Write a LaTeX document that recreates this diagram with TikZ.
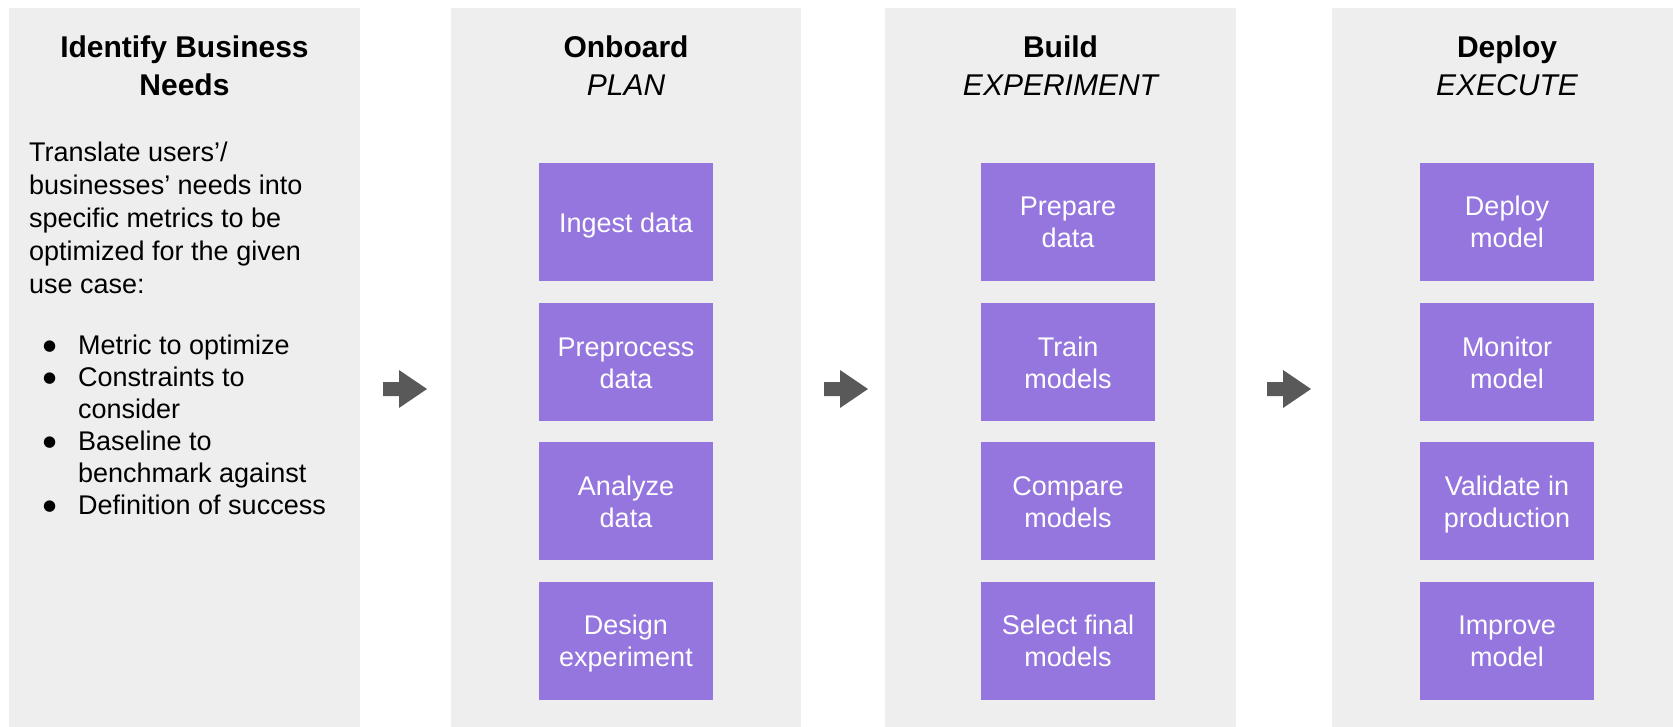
\documentclass[tikz,border=0pt]{standalone}
\usepackage{fontspec}
\setmainfont{Liberation Sans}
\newfontfamily\symfont{DejaVu Sans}
\definecolor{panelgray}{HTML}{EEEEEE}
\definecolor{boxpurple}{HTML}{9575DE}
\definecolor{arrowgray}{HTML}{595959}
\newcommand{\listdot}{\raisebox{4pt}{\symfont\fontsize{15}{15}\selectfont ●}}
\newcommand{\lines}[1]{\begin{tabular}[t]{@{}c@{}}#1\end{tabular}}
\begin{document}
\begin{tikzpicture}[x=1pt,y=-1pt,
  panel/.style={fill=panelgray,draw=none,inner sep=0pt,anchor=north west,minimum height=719pt},
  stepbox/.style={fill=boxpurple,draw=none,minimum width=174pt,minimum height=118pt,inner sep=0pt,
    text=white,font=\fontsize{27}{32}\selectfont,text height=20pt,text depth=32pt},
  oneline/.style={text height=22pt,text depth=0pt},
  heading/.style={inner sep=0pt,anchor=base,font=\fontsize{30}{38}\selectfont},
  bodytext/.style={inner sep=0pt,anchor=base west,font=\fontsize{27}{32.8}\selectfont},
  blockarrow/.pic={\fill[arrowgray] (-22,-7) -- (-6,-7) -- (-6,-19) -- (22,0) -- (-6,19) -- (-6,7) -- (-22,7) -- cycle;}
]
\useasboundingbox (0,0) rectangle (1673,727);
% panels
\node[panel,minimum width=351pt] (p1) at (9,8) {};
\node[panel,minimum width=350pt] (p2) at (451,8) {};
\node[panel,minimum width=351pt] (p3) at (885,8) {};
\node[panel,minimum width=341pt] (p4) at (1332,8) {};
% headings
\node[heading] (t1) at (184.5,58) {\lines{\bfseries Identify Business\\\bfseries Needs}};
\node[heading] (t2) at (626,58) {\lines{\bfseries Onboard\\\itshape PLAN}};
\node[heading] (t3) at (1060.5,58) {\lines{\bfseries Build\\\itshape EXPERIMENT}};
\node[heading] (t4) at (1507,58) {\lines{\bfseries Deploy\\\itshape EXECUTE}};
% left text
\node[bodytext] (desc) at (29,162) {\begin{tabular}[t]{@{}l@{}}Translate users’/\\businesses’ needs into\\specific metrics to be\\optimized for the given\\use case:\end{tabular}};
\node[bodytext,font=\fontsize{27}{32}\selectfont] (list) at (43,354) {\begin{tabular}[t]{@{}p{35pt}@{}l@{}}
\listdot & Metric to optimize\\
\listdot & Constraints to\\
 & consider\\
\listdot & Baseline to\\
 & benchmark against\\
\listdot & Definition of success
\end{tabular}};
% boxes
\node[stepbox,oneline] (b21) at (626,222) {\lines{Ingest data}};
\node[stepbox] (b22) at (626,362) {\lines{Preprocess\\data}};
\node[stepbox] (b23) at (626,501) {\lines{Analyze\\data}};
\node[stepbox] (b24) at (626,640.5) {\lines{Design\\experiment}};
\node[stepbox] (b31) at (1068,222) {\lines{Prepare\\data}};
\node[stepbox] (b32) at (1068,362) {\lines{Train\\models}};
\node[stepbox] (b33) at (1068,501) {\lines{Compare\\models}};
\node[stepbox] (b34) at (1068,640.5) {\lines{Select final\\models}};
\node[stepbox] (b41) at (1507,222) {\lines{Deploy\\model}};
\node[stepbox] (b42) at (1507,362) {\lines{Monitor\\model}};
\node[stepbox] (b43) at (1507,501) {\lines{Validate in\\production}};
\node[stepbox] (b44) at (1507,640.5) {\lines{Improve\\model}};
% arrows between stages
\pic (a1) at (405,389) {blockarrow};
\pic (a2) at (846,389) {blockarrow};
\pic (a3) at (1289,389) {blockarrow};
\end{tikzpicture}
\end{document}
